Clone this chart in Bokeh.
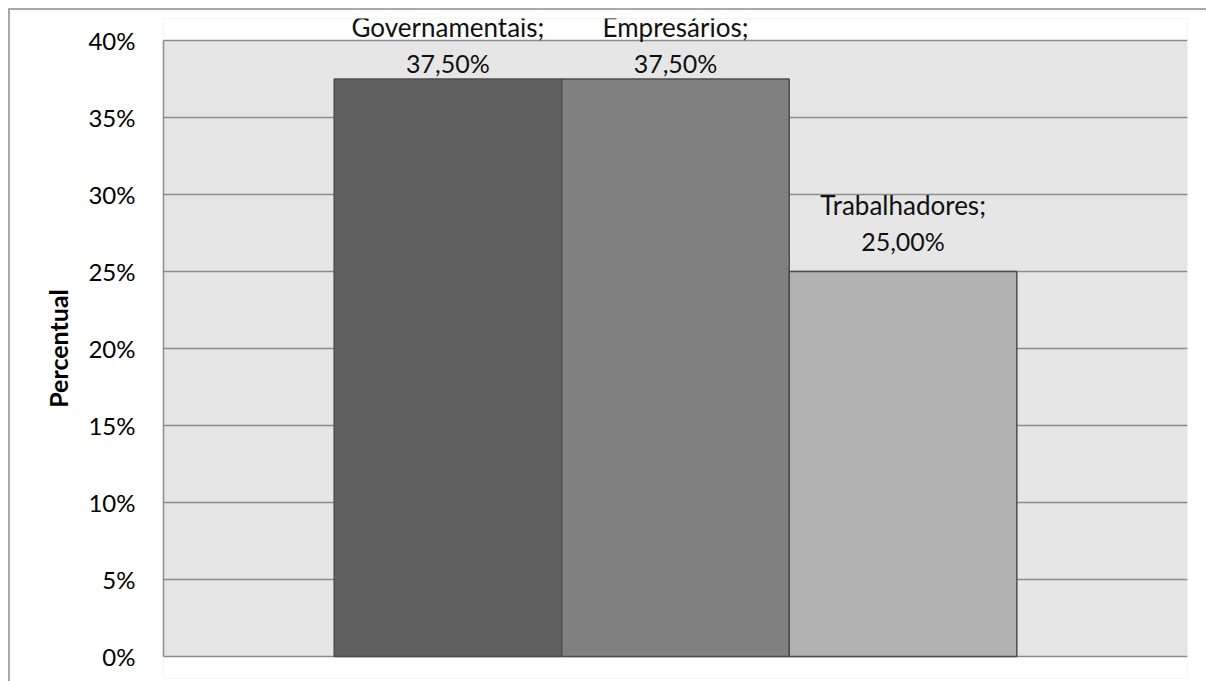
from bokeh.plotting import figure
from bokeh.models import Range1d, FixedTicker, ColumnDataSource, Label, BoxAnnotation
from bokeh.embed import file_html
from bokeh.resources import INLINE

# ---- data ----
series = ["Governamentais", "Empresários", "Trabalhadores"]
values = [37.5, 37.5, 25.0]          # percent
colors = ["#606060", "#808080", "#b2b2b2"]
y_ticks = [0, 5, 10, 15, 20, 25, 30, 35, 40]
y_tick_labels = ["0%", "5%", "10%", "15%", "20%", "25%", "30%", "35%", "40%"]
y_title = "Percentual"
y_min, y_max = 0, 40

FONT = "Lato"

# ---- layout constants (pixels) ----
PLOT_PX = 616.0                 # height of the 0..40% area
PX = PLOT_PX / (y_max - y_min)  # pixels per percent
PAD_TOP, PAD_BOTTOM = 22.0, 22.0  # white strips inside the frame (for labels)

xs = [i + 1.25 for i in range(len(series))]
src = ColumnDataSource(dict(x=xs, top=values, color=colors))

y_start = y_min - PAD_BOTTOM / PX
y_end = y_max + PAD_TOP / PX

p = figure(width=1198, height=673, output_backend="svg", toolbar_location=None,
           x_range=Range1d(0, 4.5), y_range=Range1d(y_start, y_end),
           min_border_left=153, min_border_right=21, min_border_top=8, min_border_bottom=5)
p.margin = (8, 0, 0, 8)
p.styles = {"border-left": "2px solid #a8a8a8", "border-top": "2px solid #a8a8a8"}

p.background_fill_color = "#e6e6e6"
p.border_fill_color = "white"
p.outline_line_color = None

p.add_layout(BoxAnnotation(bottom=y_max, fill_color="white", fill_alpha=1.0,
                           line_color=None, level="image"))
p.add_layout(BoxAnnotation(top=y_min, fill_color="white", fill_alpha=1.0,
                           line_color=None, level="image"))

p.vbar(x="x", top="top", bottom=y_min, width=1.0, source=src, fill_color="color",
       line_color="#4d4d4d", line_width=1.5)

p.xaxis.visible = False
p.xgrid.visible = False

p.yaxis.ticker = FixedTicker(ticks=y_ticks)
p.yaxis.bounds = (y_min, y_max)
p.yaxis.major_label_overrides = {t: l for t, l in zip(y_ticks, y_tick_labels)}
p.yaxis.major_tick_line_color = None
p.yaxis.minor_tick_line_color = None
p.yaxis.axis_line_color = "#8c8c8c"
p.yaxis.axis_line_width = 1.5
p.yaxis.major_label_standoff = 22
p.yaxis.major_label_text_font = FONT
p.yaxis.major_label_text_font_size = "24px"
p.yaxis.major_label_text_color = "black"
p.yaxis.axis_label = y_title
p.yaxis.axis_label_text_font = FONT
p.yaxis.axis_label_text_font_size = "25px"
p.yaxis.axis_label_text_font_style = "bold"
p.yaxis.axis_label_text_color = "black"
p.yaxis.axis_label_standoff = 12

p.ygrid.ticker = FixedTicker(ticks=y_ticks)
p.ygrid.grid_line_color = "#8c8c8c"
p.ygrid.grid_line_width = 1.5

BASE_FIX = 12  # renderer offset for alphabetic baseline
for x, v, s in zip(xs, values, series):
    lift1 = min(55.0, (y_max - v) * PX + 2.0)   # keep labels inside chart area
    lift2 = lift1 - 36.0
    p.add_layout(Label(x=x, y=v, y_offset=lift1 + BASE_FIX, text=s + ";",
                       text_align="center", text_baseline="alphabetic", text_font=FONT,
                       text_font_size="26px", text_color="#111111"))
    p.add_layout(Label(x=x, y=v, y_offset=lift2 + BASE_FIX,
                       text=("%.2f" % v).replace(".", ",") + "%",
                       text_align="center", text_baseline="alphabetic", text_font=FONT,
                       text_font_size="25px", text_color="#111111"))

open("out.html", "w").write(file_html(p, INLINE))
